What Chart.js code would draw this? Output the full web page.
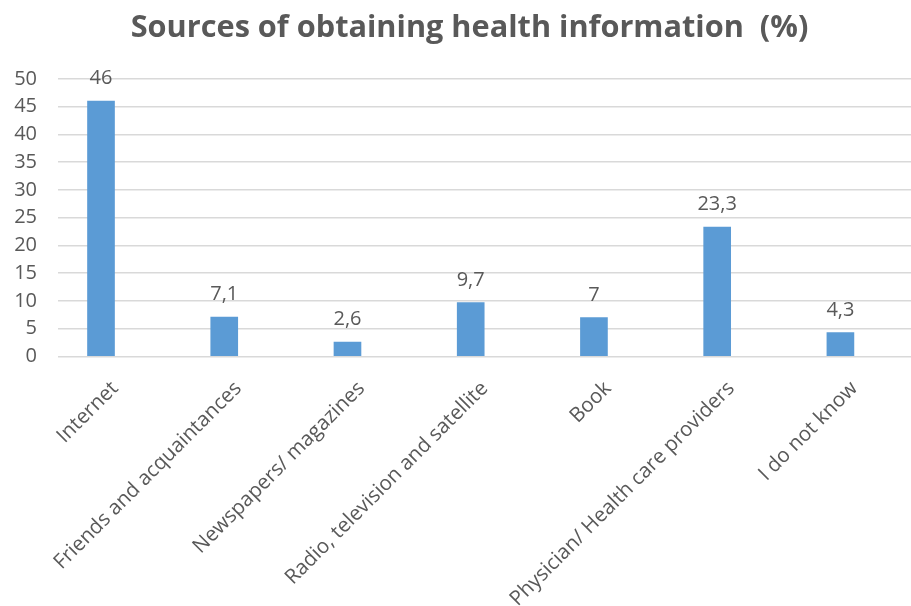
<!DOCTYPE html>
<html>
<head>
<meta charset="utf-8">
<script src="https://cdn.jsdelivr.net/npm/chart.js@4"></script>
<style>
  html, body { margin: 0; padding: 0; background: #fff; overflow: hidden; }
  /* o original é um recorte do gráfico: a área de plotagem continua além da borda direita */
  #wrap { width: 939px; height: 606px; position: relative; }
</style>
</head>
<body>
<div id="wrap"><canvas id="chart"></canvas></div>
<script>
// ── DADOS ────────────────────────────────────────────────────────────────────
const categories = [
  'Internet',
  'Friends and acquaintances',
  'Newspapers/ magazines',
  'Radio, television and satellite',
  'Book',
  'Physician/ Health care providers',
  'I do not know'
]
const values  = [46, 7.1, 2.6, 9.7, 7, 23.3, 4.3]
const yTicks  = [0, 5, 10, 15, 20, 25, 30, 35, 40, 45, 50]

const TXT   = '#595959'
const FONT  = "'Open Sans', sans-serif"

// Rótulos de valor acima das barras (vírgula decimal, como no original)
const valueLabels = {
  id: 'value-labels',
  afterDatasetsDraw(chart) {
    const { ctx } = chart
    const meta = chart.getDatasetMeta(0)
    ctx.save()
    ctx.font = `20px ${FONT}`
    ctx.fillStyle = TXT
    ctx.textAlign = 'center'
    ctx.textBaseline = 'alphabetic'
    meta.data.forEach((bar, i) => {
      ctx.fillText(String(values[i]).replace('.', ','), bar.x, bar.y - 17)
    })
    ctx.restore()
  }
}

new Chart(document.getElementById('chart'), {
  type: 'bar',
  plugins: [valueLabels],
  data: {
    datasets: [{
      data: values.map((v, i) => ({ x: i, y: v })),
      backgroundColor: '#5B9BD5',
      borderWidth: 0,
      barThickness: 27
    }]
  },
  options: {
    responsive: true, maintainAspectRatio: false, animation: false,
    layout: { padding: { left: 0, right: 0, top: 0, bottom: 0 } },
    plugins: {
      legend: { display: false },
      tooltip: { enabled: false },
      title: {
        display: true,
        text: 'Sources of obtaining health information  (%)',
        color: TXT,
        font: { family: FONT, size: 30.7, weight: 'bold' },
        padding: { top: 10, bottom: 32 }
      }
    },
    scales: {
      x: {
        type: 'linear',
        offset: false,
        min: -0.349, max: 6.80,
        grid: { display: false },
        border: { display: false },
        afterBuildTicks: s => { s.ticks = categories.map((_, i) => ({ value: i })) },
        afterFit: s => { s.height = 249.5 },
        ticks: {
          autoSkip: false,
          minRotation: 45, maxRotation: 45,
          labelOffset: 14,
          padding: 12,
          color: TXT,
          font: { family: FONT, size: 20.5 },
          callback: v => categories[v]
        }
      },
      y: {
        min: 0, max: 50,
        afterBuildTicks: s => { s.ticks = yTicks.map(v => ({ value: v })) },
        afterFit: s => { s.width = 58 },
        grid: { color: '#D9D9D9', lineWidth: 1.5, drawTicks: false },
        border: { display: false },
        ticks: {
          padding: 21,
          color: TXT,
          font: { family: FONT, size: 20 }
        }
      }
    }
  }
})
</script>
</body>
</html>
